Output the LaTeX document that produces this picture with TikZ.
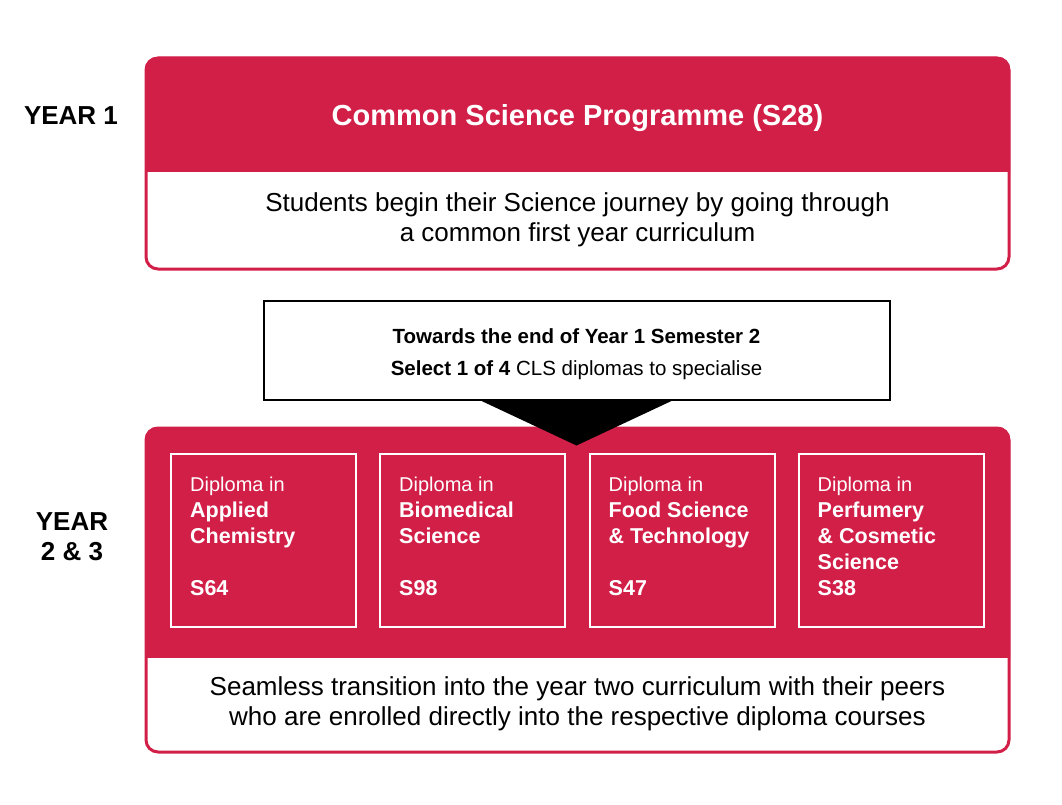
\documentclass[tikz,border=0pt]{standalone}
\usepackage{fontspec}
\setmainfont{Liberation Sans}
\usepackage{tikz}
\usetikzlibrary{calc}
\definecolor{csred}{RGB}{210,31,72}

\begin{document}
\begin{tikzpicture}[x=1pt,y=-1pt,
redbox/.style={draw=csred,line width=3pt,rounded corners=12pt},
dipbox/.style={draw=white,line width=2pt,minimum width=185pt,minimum height=173pt,inner sep=0pt},
diptext/.style={text=white,align=left,anchor=base west,inner sep=0pt},
bodytext/.style={align=center,inner sep=0pt,font=\fontsize{26}{30}\selectfont},
yeartext/.style={align=center,inner sep=0pt,font=\bfseries\fontsize{26}{30}\selectfont}]
\useasboundingbox (0,0) rectangle (1062,805);
\begin{scope}
\clip (145,57) rectangle (1010,172);
\fill[csred,rounded corners=12pt] (145,57) rectangle (1010,270);
\end{scope}
\draw[redbox] (146,58) rectangle (1009,269);
\node[yeartext] (yone) at (71,116) {YEAR 1};
\node[text=white,inner sep=0pt,font=\bfseries\fontsize{29}{30}\selectfont] (prog) at (577.5,118) {Common Science Programme (S28)};
\node[bodytext] (intro) at (577.5,220) {Students begin their Science journey by going through\\a common first year curriculum};
\begin{scope}
\clip (145,427) rectangle (1010,657);
\fill[csred,rounded corners=12pt] (145,427) rectangle (1010,753);
\end{scope}
\draw[redbox] (146,428) rectangle (1009,752);
\node[draw,line width=2pt,minimum width=626pt,minimum height=99pt,inner sep=0pt] (pick) at (576.5,350) {};
\node[align=center,inner sep=0pt,font=\fontsize{20.5}{32}\selectfont] (picktext) at ($(pick.center)+(0,4)$) {\textbf{Towards the end of Year 1 Semester 2}\\\textbf{Select 1 of 4} CLS diplomas to specialise};
\fill ($(pick.south)+(-96,0)$) -- ($(pick.south)+(96,0)$) -- ($(pick.south)+(0,45)$) -- cycle;
\node[yeartext] (ytwo) at (72,537) {YEAR\\2 \& 3};
\foreach \n/\xc/\name/\code in {1/263.5/{Applied\\Chemistry}/S64,2/472.5/{Biomedical\\Science}/S98,3/682/{Food Science\\\& Technology}/S47,4/891/{Perfumery\\\& Cosmetic\\Science}/S38}{
\node[dipbox] (dip\n) at (\xc,540.5) {};
\node[diptext,font=\fontsize{20}{26}\selectfont] (dipin\n) at ($(dip\n.north west)+(20,38)$) {Diploma in};
\node[diptext,anchor=north west,font=\bfseries\fontsize{21.5}{26}\selectfont] (dipname\n) at ($(dipin\n.base west)+(0,11)$) {\name};
\node[diptext,font=\bfseries\fontsize{21.5}{26}\selectfont] (dipcode\n) at ($(dip\n.north west)+(20,142)$) {\code};
}
\node[bodytext] (peers) at (577.5,704) {Seamless transition into the year two curriculum with their peers\\who are enrolled directly into the respective diploma courses};
\end{tikzpicture}
\end{document}
